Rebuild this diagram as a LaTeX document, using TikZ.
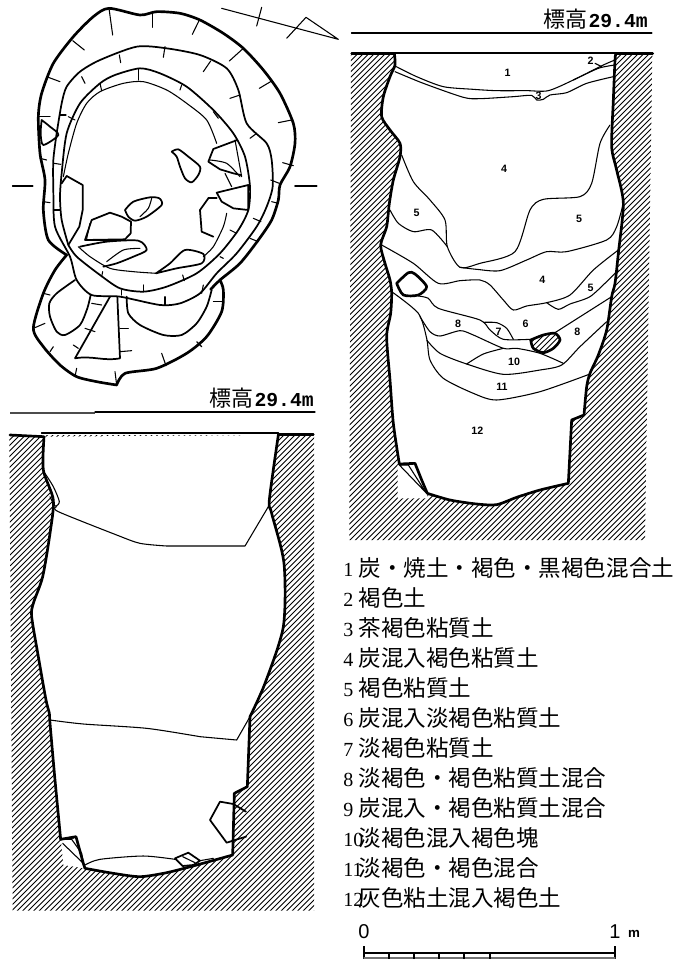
\documentclass[tikz,border=0pt]{standalone}
\usepackage{fontspec}
\setmainfont{Liberation Serif}
\newfontfamily\jp{Noto Sans CJK JP}
\newfontfamily\mono{Liberation Mono}[Scale=1]
\newfontfamily\lab{Liberation Sans}
\tikzset{
  thickline/.style={line width=2pt,line join=round,line cap=round,black},
  midline/.style={line width=1.3pt,line join=round,line cap=round,black},
  thinline/.style={line width=.8pt,line join=round,line cap=round,black},
  hatchline/.style={line width=.55pt,black},
  sp/.style={smooth,tension=.45},
  zoomed/.style={x=.25pt,y=-.25pt},
  planR/.style={zoomed},
  rightR/.style={zoomed,xshift=255pt},
  leftR/.style={zoomed,yshift=-300pt},
  legend/.style={anchor=west,inner sep=0pt,font=\fontsize{16.9pt}{18pt}\selectfont\jp},
  titlelab/.style={anchor=east,inner sep=0pt},
  layerlab/.style={inner sep=0pt,font=\fontsize{8pt}{9pt}\selectfont\lab\bfseries},
}
\newcommand{\titletext}{{\fontsize{16.5pt}{18pt}\selectfont\jp 標高}\hspace{1pt}{\fontsize{14.8pt}{18pt}\selectfont\mono\bfseries 29.4m}}
\newcommand{\rpit}{plot[sp] coordinates {(163,160)(165,195)(150,230)(130,290)(125,350)(150,390)(180,430)(180,470)(160,540)(148,610)(140,680)(122,735)(135,790)(150,840)(155,880)(152,940)(140,1010)(150,1140)(160,1270)(178,1392)} -- (225,1390) -- (245,1440) -- (262,1480) -- plot[sp] coordinates {(262,1480)(330,1500)(410,1512)(470,1514)(530,1492)(600,1470)(685,1450)} -- (695,1260) -- (732,1245) -- plot[sp] coordinates {(732,1245)(740,1160)(750,1120)(775,1065)(800,990)(815,890)(825,850)(835,760)(850,610)(830,510)(815,440)(820,300)(825,180)(828,160)}}
\newcommand{\lpit}{plot[sp] coordinates {(132,110)(130,210)(160,300)(150,400)(128,530)(100,610)(95,650)(115,770)(138,900)(148,940)(150,970)(165,1140)(182,1318)} -- (228,1310) -- (250,1390) -- (255,1405) -- plot[sp] coordinates {(255,1405)(340,1420)(420,1430)(500,1418)(590,1395)(698,1365)} -- (703,1180) -- (742,1160) -- (750,950) -- plot[sp] coordinates {(750,950)(795,850)(850,680)(852,490)(815,340)(808,300)(835,105)}}
\begin{document}
\begin{tikzpicture}[x=.75pt,y=-.75pt]
\useasboundingbox (0,0) rectangle (684,959);

% ---------- plan ----------
\begin{scope}[planR]
\draw[thickline] plot[sp] coordinates {(200,765)(145,720)(130,630)(135,540)(120,460)(115,350)(125,280)(160,190)(220,110)(280,50)(327,25)(420,45)(470,35)(540,40)(600,60)(670,100)(730,145)(790,210)(840,280)(880,370)(885,430)(870,500)(840,555)(835,600)(815,660)(775,720)(720,790)(660,840)(632,868)};
\draw[midline] plot[sp] coordinates {(170,400)(185,310)(200,260)(240,215)(300,180)(410,140)(500,145)(600,165)(680,205)(715,270)(740,370)(800,430)(815,480)(818,560)(800,620)(770,680)(710,760)(650,820)(600,880)(540,910)(480,915)(360,890)(275,885)(230,840)(210,770)(165,680)(160,570)(160,480)(170,400)};
\draw[midline] plot[sp] coordinates {(205,735)(185,660)(180,590)(185,520)(200,400)(240,310)(300,250)(345,225)(420,205)(480,220)(560,260)(640,330)(700,400)(735,470)(750,560)(745,630)(715,690)(660,760)(590,820)(500,860)(430,875)(360,865)(300,825)(230,770)(205,735)};
\draw[thinline] plot[sp] coordinates {(190,530)(205,460)(230,370)(260,310)(300,275)(370,250)(430,245)(500,270)(560,310)(620,360)(650,430)};
\draw[thinline] plot[sp] coordinates {(680,640)(670,680)(640,740)(610,770)};
\draw[thinline] plot[sp] coordinates {(470,820)(400,815)(330,805)(270,770)(235,740)};
% lower lobe
\draw[thickline] plot[sp] coordinates {(200,765)(165,810)(130,880)(100,985)(130,1040)(180,1095)(230,1130)(290,1145)(350,1155)} -- plot[sp] coordinates {(350,1155)(375,1120)(470,1105)(560,1060)(620,1010)(665,935)(670,870)(660,840)};
\draw[midline] plot[sp] coordinates {(225,840)(170,880)(148,910)(150,950)(170,995)(195,1005)(240,975)(262,925)(272,885)};
\draw[midline] (330,890) -- (225,1075) to[out=10,in=190] (360,1075) -- (352,890);
\draw[midline] plot[sp] coordinates {(380,890)(385,940)(420,975)(490,1005)(545,1005)(590,970)(620,920)(635,870)};
% stones
\draw[midline] plot[sp] coordinates {(125,360)(150,380)(175,405)(130,435)(122,400)(125,360)};
\draw[midline] plot[sp] coordinates {(515,455)(535,448)(565,470)(600,500)(595,525)(575,547)(555,535)(540,500)(530,470)(515,455)};
\draw[midline] (712,420) -- (640,447) -- (625,485) -- (660,508) -- (700,520) -- (722,525);
\draw[thinline] (705,420) -- (725,530);
\draw[thinline] plot[sp] coordinates {(630,480)(680,490)(720,530)};
\draw[thinline] (675,520) -- (695,560);
\draw[midline] (650,578) -- (745,555) -- (745,630) -- (700,625) -- (665,605) -- cycle;
\draw[midline] (625,595) -- (600,630) -- (605,695) -- (640,710);
\draw[midline] (625,595) -- (650,595);
\draw[midline] (200,528) -- (248,555) -- (248,630) -- (238,680) -- (205,735);
\draw[midline] (200,528) -- (185,550);
\draw[midline] plot[sp] coordinates {(375,630)(400,605)(450,592)(478,595)(485,615)(440,650)(405,662)(385,650)(375,630)};
\draw[thinline] plot[sp] coordinates {(455,595)(445,625)(420,650)};
\draw[midline] (275,660) -- (330,638) -- (365,650) -- (393,665) -- (392,700) -- (375,718) -- (255,720) -- (275,660);
\draw[thinline] (270,670) -- (260,716);
\draw[thinline] (270,722) -- (375,722);
\draw[midline] plot[sp] coordinates {(240,740)(320,725)(415,722)(440,750)(400,770)(350,790)(310,800)};
\draw[thinline] plot[sp] coordinates {(320,785)(370,750)(420,745)};
\draw[midline] plot[sp] coordinates {(468,820)(510,790)(555,750)(610,762)(605,790)(530,805)(468,820)};
% ticks
\foreach \a/\b/\c/\d in {327/25/338/105,458/40/458/82,598/60/577/103,730/145/688/183,815/243/778/265,875/360/835/368,848/488/880/497,812/540/838/550,815/605/835/610,760/655/783/665,750/715/775/725,218/122/253/150,145/232/180/245,115/350/150/350,120/475/140/480,130/605/150/608,
 358/165/362/188,495/140/490/172,632/183/610/215,245/230/255/250,178/345/198/345,162/490/182/493,160/630/180/630,
 415/205/415/240,545/255/540/270,300/250/305/272,205/350/225/360,640/335/655/355,750/415/770/400,690/295/720/285,
 548/825/553/842,430/855/430/875,308/815/305/830,610/855/605/880,495/890/495/915,365/870/365/885,660/770/670/775,690/690/710/700,
 100/985/135/970,130/880/150/885,160/1040/150/1055,220/1035/235/1045,255/985/285/995,275/910/305/915,360/985/385/985,360/1055/395/1052,485/1060/498/1097,590/1025/605/1040,640/905/668/905,345/1115/350/1155,230/1105/225/1130}
  {\draw[thinline] (\a,\b) -- (\c,\d);}
% north arrow and section marks
\coordinate (tipN) at (1015,118);
\coordinate (tailN) at (665,25);
\draw[thinline] (tailN) -- (tipN) -- (918,52) -- (860,115);
\draw[thinline] (785,22) -- (770,78);
\draw[midline] (38,557) -- (98,557);
\draw[midline] (885,557) -- (950,557);
\end{scope}

% ---------- right section ----------
\begin{scope}[rightR]
\begin{scope}
\clip (33,160) -- (937,160) -- (915,1620) -- (28,1620) -- cycle;
\foreach \k in {0,16.5,...,3000} {\draw[hatchline] (\k,0) -- ++(-2000,2000);}
\end{scope}
\fill[white] \rpit -- cycle;
\fill[white] (173,1395) -- (173,1495) -- (262,1495) -- (262,1480) -- (230,1395) -- cycle;
\draw[thickline] \rpit;
\draw[thickline] (35,160) -- (165,160);
\draw[midline] (165,158) -- (828,158);
\draw[thickline] (828,160) -- (938,160);
\draw[midline] (35,100) -- (935,100);
\draw[thinline] (178,1395) -- (205,1395) -- (258,1478) -- cycle;
% layers
\draw[thinline] plot[sp] coordinates {(165,198)(230,230)(310,260)(400,268)(470,272)(560,272)(625,272)(700,240)(790,195)(825,180)};
\draw[thinline] plot[sp] coordinates {(165,215)(250,250)(370,292)(420,296)(520,290)(575,286)(590,300)(610,298)(630,285)(680,278)(740,250)(820,230)};
\draw[thinline] plot[sp] coordinates {(700,240)(775,205)(825,195)};
\draw[thinline] (765,190) -- (785,200);
\draw[thinline] plot[sp] coordinates {(185,465)(220,545)(270,600)(315,660)(322,740)(360,802)(420,790)(525,755)(570,630)(610,598)(720,590)(755,550)(780,430)(810,375)};
\draw[thinline] plot[sp] coordinates {(150,630)(175,670)(220,695)(275,690)(322,740)};
\draw[thinline] plot[sp] coordinates {(360,802)(410,808)(480,812)(560,780)(620,755)(680,755)(800,720)(830,680)(850,610)};
\draw[thinline] plot[sp] coordinates {(125,735)(220,790)(295,850)(360,842)(420,840)(450,855)(490,900)(520,930)(560,918)(620,908)(690,885)(760,810)(835,750)};
\draw[thinline] plot[sp] coordinates {(620,908)(655,928)(690,912)(750,890)(805,840)(835,810)};
\draw[thinline] plot[sp] coordinates {(235,888)(265,895)(295,925)(420,960)(450,990)(490,1018)(570,1018)};
\draw[thinline] plot[sp] coordinates {(155,875)(235,940)(260,1015)(270,1080)(310,1135)(400,1180)(470,1200)(600,1175)(750,1122)};
\draw[thinline] plot[sp] coordinates {(240,950)(270,995)(300,1008)(360,992)(400,1005)(490,1045)(530,1045)(600,1060)(670,1090)};
\draw[thinline] plot[sp] coordinates {(260,1020)(300,1060)(380,1092)(490,1123)(600,1110)(665,1095)(720,1040)(800,965)};
\draw[thinline] plot[sp] coordinates {(380,1092)(430,1062)(490,1045)};
\draw[thinline] plot[sp] coordinates {(430,967)(470,968)(500,985)(520,1018)};
\draw[thinline] (645,998) -- (815,890);
% hatched stones
\begin{scope}
\fill[white] plot[sp] coordinates {(170,850)(205,818)(225,822)(260,860)(235,885)(190,885)(170,850)};
\clip plot[sp] coordinates {(170,850)(205,818)(225,822)(260,860)(235,885)(190,885)(170,850)};
\foreach \k in {0,16,...,2000} {\draw[hatchline] (\k,0) -- ++(2000,2000);}
\end{scope}
\draw[thickline] plot[sp] coordinates {(170,850)(205,818)(225,822)(260,860)(235,885)(190,885)(170,850)};
\begin{scope}
\fill[white] plot[sp] coordinates {(572,1020)(610,1005)(645,1000)(660,1020)(640,1045)(610,1058)(580,1045)(572,1020)};
\clip plot[sp] coordinates {(572,1020)(610,1005)(645,1000)(660,1020)(640,1045)(610,1058)(580,1045)(572,1020)};
\foreach \k in {0,16.5,...,3000} {\draw[hatchline] (\k,0) -- ++(-2000,2000);}
\end{scope}
\draw[thickline] plot[sp] coordinates {(572,1020)(610,1005)(645,1000)(660,1020)(640,1045)(610,1058)(580,1045)(572,1020)};
% labels
\node[layerlab] (l1) at (503,220) {1};
\node[layerlab] (l2) at (752,183) {2};
\node[layerlab] (l3) at (596,288) {3};
\node[layerlab] (l4a) at (492,505) {4};
\node[layerlab] (l5a) at (230,638) {5};
\node[layerlab] (l5b) at (717,657) {5};
\node[layerlab] (l4b) at (607,840) {4};
\node[layerlab] (l5c) at (752,865) {5};
\node[layerlab] (l8a) at (354,970) {8};
\node[layerlab] (l7) at (476,995) {7};
\node[layerlab] (l6) at (557,970) {6};
\node[layerlab] (l8b) at (712,995) {8};
\node[layerlab] (l10) at (522,1085) {10};
\node[layerlab] (l11) at (486,1160) {11};
\node[layerlab] (l12) at (412,1292) {12};
\end{scope}
\node[titlelab] (titleR) at (648,19) {\titletext};

% ---------- left section ----------
\begin{scope}[leftR]
\begin{scope}
\clip (28,105) -- (942,105) -- (942,1532) -- (38,1532) -- cycle;
\foreach \k in {0,16.5,...,3000} {\draw[hatchline] (\k,0) -- ++(-2000,2000);}
\end{scope}
\fill[white] \lpit -- cycle;
\fill[white] (183,1322) -- (190,1395) -- (255,1405) -- (232,1315) -- cycle;
\draw[thickline] \lpit;
\draw[thickline] (30,105) -- (130,110);
\draw[midline] (125,100) -- (835,100);
\draw[thickline] (835,103) -- (940,103);
\draw[line width=1.4pt,black!70] (30,38) -- (285,38);
\draw[thinline] (285,36) -- (945,36);
\draw[thinline] plot[sp] coordinates {(135,220)(160,260)(178,305)(165,318)(150,290)};
\draw[thinline] plot[sp] coordinates {(170,320)(175,335)(350,405)(420,430)(500,438)} -- (735,438) -- (808,315);
\draw[thinline] plot[sp] coordinates {(150,960)(250,972)(440,985)(600,1010)} -- (710,1020) -- (750,950);
\draw[midline] (738,1235) -- (700,1212) -- (660,1205) -- (630,1260) -- (680,1328) -- (705,1320) -- (738,1310);
\draw[thinline] (190,1318) -- (215,1318) -- (245,1360) -- (250,1390) -- (188,1330);
\draw[thinline] plot[sp] coordinates {(255,1395)(300,1378)(430,1368)(525,1378)};
\draw[midline] (525,1375) -- (565,1358) -- (600,1382) -- (580,1395) -- (548,1398) -- cycle;
\draw[thinline] (548,1370) -- (585,1388);
\draw[thinline] (600,1382) -- (640,1375);
\end{scope}
\node[titlelab] (titleL) at (314,398) {\titletext};

% ---------- legend ----------
\newcommand{\leg}[1]{\makebox[11.5pt][l]{\fontsize{15pt}{18pt}\selectfont\rmfamily #1}}
\node[legend] (t1) at (343,568) {\leg{1}炭・焼土・褐色・黒褐色混合土};
\node[legend] (t2) at (343,598) {\leg{2}褐色土};
\node[legend] (t3) at (343,628) {\leg{3}茶褐色粘質土};
\node[legend] (t4) at (343,658) {\leg{4}炭混入褐色粘質土};
\node[legend] (t5) at (343,688) {\leg{5}褐色粘質土};
\node[legend] (t6) at (343,718) {\leg{6}炭混入淡褐色粘質土};
\node[legend] (t7) at (343,748) {\leg{7}淡褐色粘質土};
\node[legend] (t8) at (343,778) {\leg{8}淡褐色・褐色粘質土混合};
\node[legend] (t9) at (343,808) {\leg{9}炭混入・褐色粘質土混合};
\node[legend] (t10) at (343,838) {\leg{10}淡褐色混入褐色塊};
\node[legend] (t11) at (343,868) {\leg{11}淡褐色・褐色混合};
\node[legend] (t12) at (343,898) {\leg{12}灰色粘土混入褐色土};

% ---------- scale ----------
\coordinate (sL) at (364,953);
\coordinate (sR) at (615,953);
\draw[midline,line cap=butt] (sL) -- (sR);
\draw[midline,line cap=butt] (364,946) -- (364,959);
\draw[midline,line cap=butt] (615,946) -- (615,959);
\draw[thinline,black!55] (364,958) -- (615,958);
\foreach \x in {389,414,439,464,490} {\draw[midline,line cap=butt] (\x,953) -- (\x,959);}
\node[inner sep=0pt,font=\fontsize{15pt}{16pt}\selectfont\lab] (s0) at (364,932) {0};
\node[inner sep=0pt,font=\fontsize{15pt}{16pt}\selectfont\lab] (s1) at (615,932) {1};
\node[inner sep=0pt,font=\fontsize{10pt}{11pt}\selectfont\lab\bfseries] (sm) at (634,934) {m};
\end{tikzpicture}
\end{document}
